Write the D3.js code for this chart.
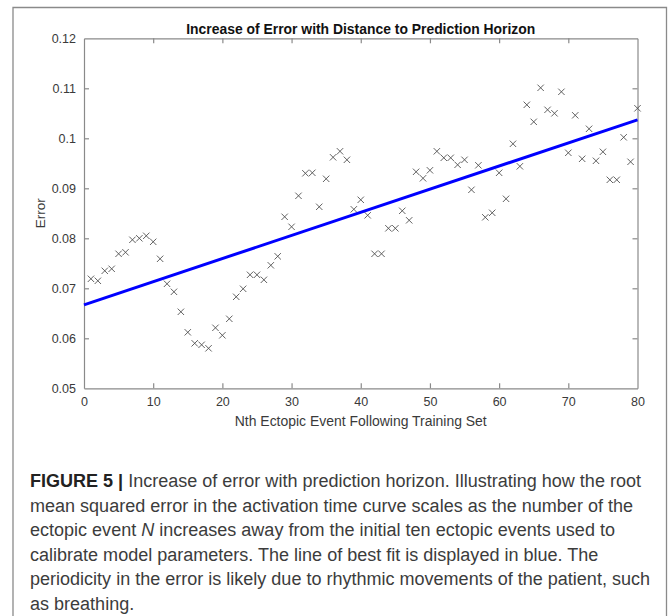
<!DOCTYPE html>
<html><head><meta charset="utf-8">
<script src="https://cdn.jsdelivr.net/npm/d3@7/dist/d3.min.js"></script>
<style>body{margin:0;background:#fff;}svg{display:block;}</style>
</head><body>
<svg id="c" width="669" height="616"></svg>
<script>
// ---- data ----
const eventN = d3.range(1, 81);
const errorValues = [
0.0719,0.0715,0.0735,0.0739,0.0769,0.0772,0.0797,0.0800,0.0805,0.0793,
0.0759,0.0709,0.0693,0.0653,0.0612,0.0590,0.0587,0.0580,0.0621,0.0606,
0.0639,0.0683,0.0699,0.0727,0.0727,0.0717,0.0746,0.0764,0.0843,0.0823,
0.0885,0.0930,0.0931,0.0863,0.0919,0.0962,0.0974,0.0957,0.0858,0.0877,
0.0846,0.0769,0.0769,0.0820,0.0820,0.0855,0.0836,0.0933,0.0920,0.0936,
0.0974,0.0961,0.0961,0.0947,0.0957,0.0897,0.0946,0.0842,0.0851,0.0931,
0.0879,0.0989,0.0944,0.1067,0.1033,0.1101,0.1057,0.1050,0.1093,0.0971,
0.1046,0.0959,0.1019,0.0955,0.0973,0.0917,0.0917,0.1002,0.0953,0.1060];
const fitX = [0, 80];
const fitY = [0.0667, 0.1037];
const xTicks = [0,10,20,30,40,50,60,70,80];
const yTicks = [0.05,0.06,0.07,0.08,0.09,0.10,0.11,0.12];
const yTickLabels = ["0.05","0.06","0.07","0.08","0.09","0.1","0.11","0.12"];
const titleText = "Increase of Error with Distance to Prediction Horizon";
const xLabel = "Nth Ectopic Event Following Training Set";
const yLabel = "Error";
const captionBold = "FIGURE 5 | ";
const captionLines = [
 "Increase of error with prediction horizon. Illustrating how the root",
 "mean squared error in the activation time curve scales as the number of the",
 ["ectopic event ", "N", " increases away from the initial ten ectopic events used to"],
 "calibrate model parameters. The line of best fit is displayed in blue. The",
 "periodicity in the error is likely due to rhythmic movements of the patient, such",
 "as breathing."
];

// ---- layout ----
const svg = d3.select("#c");
const L = 84, R = 637.5, T = 38.3, B = 388.3;
const x = d3.scaleLinear().domain([0, 80]).range([L, R]);
const y = d3.scaleLinear().domain([0.05, 0.12]).range([B, T]);
const axisCol = "#8a8a8a", textCol = "#3a3a3a";
const font = "'Liberation Sans', Arial, Helvetica, sans-serif";

// frame
svg.append("path").attr("d", "M13,616 L13,7.5 L666.5,7.5 L666.5,616")
  .attr("fill","none").attr("stroke","#8a8a8a").attr("stroke-width",1.3);

// axes
const gx = svg.append("g").attr("transform", `translate(0,${B})`)
  .call(d3.axisBottom(x).tickValues(xTicks).tickSizeInner(-5).tickSizeOuter(0).tickPadding(9));
const gxt = svg.append("g").attr("transform", `translate(0,${T})`)
  .call(d3.axisTop(x).tickValues(xTicks).tickSizeInner(-5).tickSizeOuter(0).tickFormat(""));
const gy = svg.append("g").attr("transform", `translate(${L},0)`)
  .call(d3.axisLeft(y).tickValues(yTicks).tickSizeInner(-5).tickSizeOuter(0).tickPadding(8)
    .tickFormat((d,i)=>yTickLabels[i]));
const gyr = svg.append("g").attr("transform", `translate(${R},0)`)
  .call(d3.axisRight(y).tickValues(yTicks).tickSizeInner(-5).tickSizeOuter(0).tickFormat(""));
[gx,gxt,gy,gyr].forEach(g=>{
  g.selectAll("path.domain").attr("stroke", axisCol).attr("stroke-width",1.2);
  g.selectAll(".tick line").attr("stroke", axisCol).attr("stroke-width",1.2);
  g.selectAll(".tick text").attr("fill", textCol).attr("font-family", font).attr("font-size", 12.5);
});
gxt.selectAll(".tick").filter(d=>d===0||d===80).remove();
gyr.selectAll(".tick").filter(d=>d===0.05||d===0.12).remove();
gx.selectAll(".tick line").filter(d=>d===0||d===80).remove();
gy.selectAll(".tick line").filter(d=>d===0.05||d===0.12).remove();

// markers
const ms = 3.2;
const pts = svg.append("g").attr("stroke","#505050").attr("stroke-width",0.9).attr("fill","none");
eventN.forEach((n,i)=>{
  const cx = x(n), cy = y(errorValues[i]);
  pts.append("path").attr("d", `M${cx-ms},${cy-ms}L${cx+ms},${cy+ms}M${cx-ms},${cy+ms}L${cx+ms},${cy-ms}`);
});

// fit line
svg.append("line").attr("x1", x(fitX[0])).attr("y1", y(fitY[0]))
  .attr("x2", x(fitX[1])).attr("y2", y(fitY[1]))
  .attr("stroke","#0000ff").attr("stroke-width",3);

// title & labels
svg.append("text").attr("x",(L+R)/2).attr("y",34).attr("text-anchor","middle")
  .attr("font-family",font).attr("font-weight","bold").attr("font-size",14)
  .attr("textLength",349).attr("lengthAdjust","spacingAndGlyphs").attr("fill","#111").text(titleText);
svg.append("text").attr("x",(L+R)/2).attr("y",426).attr("text-anchor","middle")
  .attr("font-family",font).attr("font-size",14)
  .attr("textLength",252).attr("lengthAdjust","spacingAndGlyphs").attr("fill",textCol).text(xLabel);
svg.append("text").attr("transform",`translate(45,${(T+B)/2}) rotate(-90)`).attr("text-anchor","middle")
  .attr("font-family",font).attr("font-size",13.5).attr("fill",textCol).text(yLabel);

// caption
const capFont = "'Liberation Sans', Arial, sans-serif";
const cap = svg.append("g").attr("font-family", capFont).attr("fill","#3c3c3c");
const baseY = 487, lh = 24.6, capX = 30, fs = 18;
const lines = [];
captionLines.forEach((ln,i)=>{
  const t = cap.append("text").attr("x",capX).attr("y",baseY+i*lh).attr("font-size",fs);
  if(i===0){ t.append("tspan").attr("font-weight","bold").attr("fill","#222").text(captionBold.slice(0,8));
             t.append("tspan").text(" | ").attr("font-weight","bold").attr("fill","#222");
             t.append("tspan").text(ln); }
  else if(Array.isArray(ln)){ t.append("tspan").text(ln[0]); t.append("tspan").attr("font-style","italic").text(ln[1]); t.append("tspan").text(ln[2]); }
  else t.text(ln);
  lines.push(t);
});
// condense glyphs uniformly so the first line spans the reference width
const k = 611 / lines[0].node().getComputedTextLength();
lines.forEach(t=>{
  const w = t.node().getComputedTextLength();
  t.attr("textLength", w*k).attr("lengthAdjust","spacingAndGlyphs");
});
</script>
</body></html>
